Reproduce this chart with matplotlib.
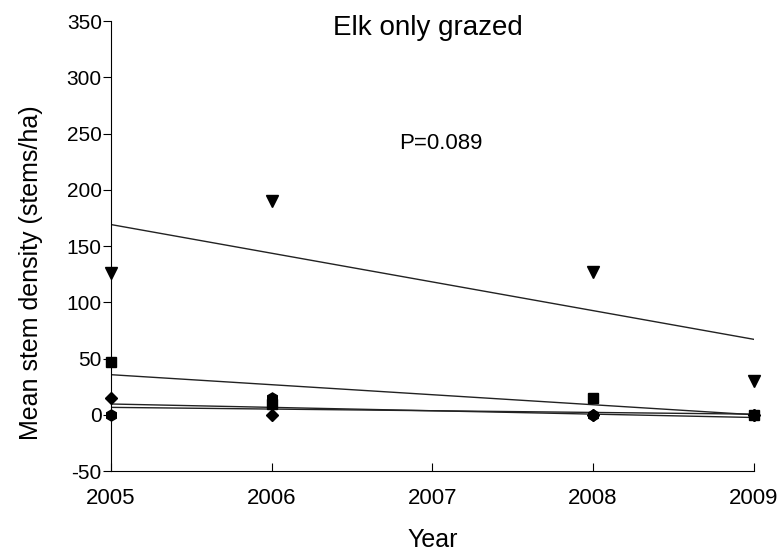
import matplotlib
matplotlib.use("Agg")
import matplotlib.pyplot as plt
import numpy as np

plt.rcParams['font.family'] = ['Liberation Sans', 'DejaVu Sans']
plt.rcParams['axes.unicode_minus'] = False

years = np.array([2005, 2006, 2008, 2009])
triangles = np.array([126, 190, 127, 30])
squares = np.array([47, 10, 15, 0])
diamonds = np.array([15, 0, 0, 0])
circles = np.array([0, 15, 0, 0])

fig = plt.figure(figsize=(7.81, 5.57), dpi=100)
ax = fig.add_axes([0.142, 0.154, 0.823, 0.808])

series = [(triangles, 'v', 8), (squares, 's', 7), (diamonds, 'D', 6), (circles, 'h', 8)]
xfit = np.array([2005, 2009])
for vals, mk, ms in series:
    # regression line for each series
    slope, icpt = np.polyfit(years, vals, 1)
    ax.plot(xfit, slope * xfit + icpt, color='#222222', lw=1.0, zorder=2)
    ax.plot(years, vals, linestyle='none', marker=mk, markersize=ms,
            color='black', zorder=3, clip_on=False)

ax.set_xlim(2005, 2009)
ax.set_ylim(-50, 350)
ax.set_xticks([2005, 2006, 2007, 2008, 2009])
ax.set_yticks(np.arange(-50, 351, 50))
ax.spines['top'].set_visible(False)
ax.spines['right'].set_visible(False)
ax.tick_params(axis='x', direction='in', length=6, labelsize=16, pad=12)
ax.tick_params(axis='y', direction='out', length=6, labelsize=15, pad=0.5)
ax.set_xlabel('Year', fontsize=18, labelpad=14)
ax.set_ylabel('Mean stem density (stems/ha)', fontsize=18)
ax.yaxis.set_label_coords(-0.105, 0.442)

ax.text(0.493, 0.984, 'Elk only grazed', transform=ax.transAxes, ha='center',
        va='center', fontsize=20)
ax.text(2007.05, 241, 'P=0.089', ha='center', va='center', fontsize=16)

fig.savefig('out.png', dpi=100)
